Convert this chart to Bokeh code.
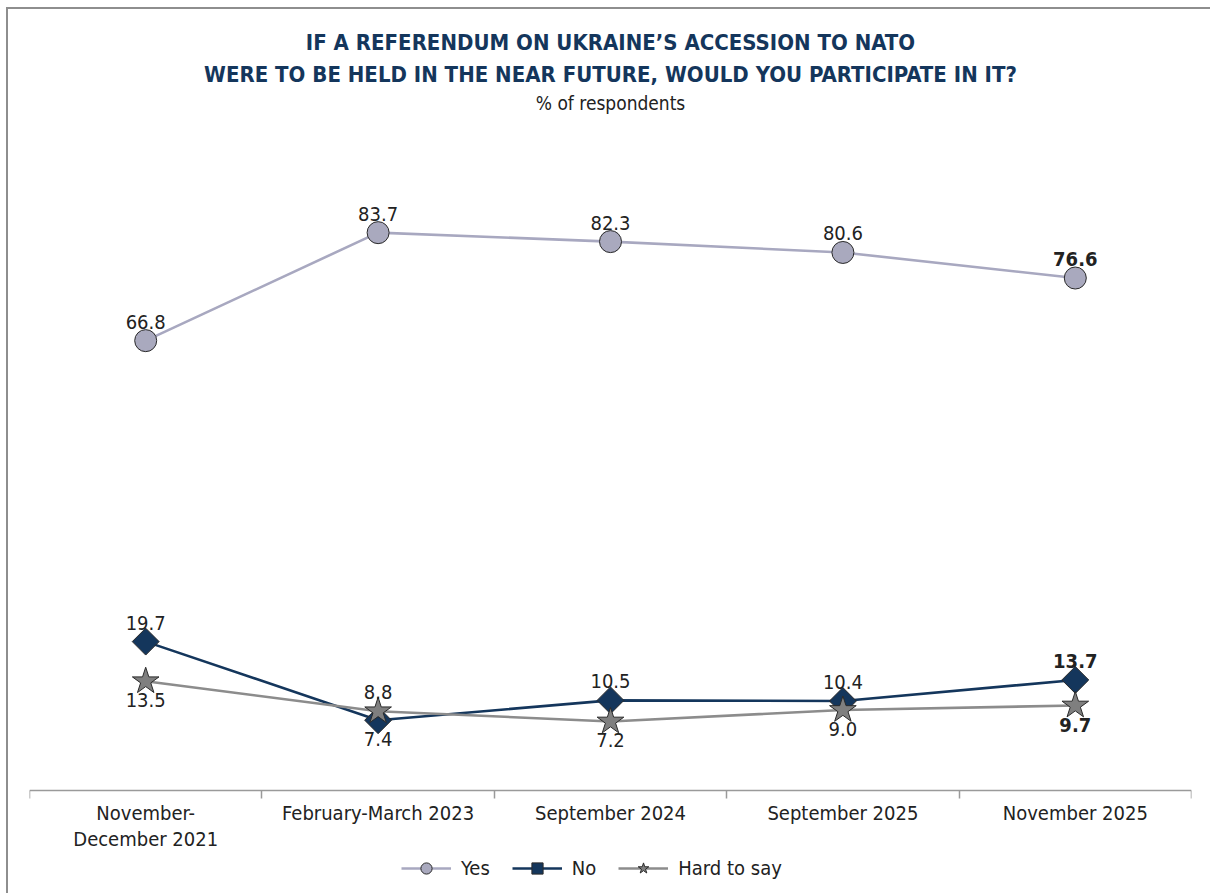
import math
from bokeh.plotting import figure
from bokeh.models import (ColumnDataSource, FixedTicker, Title, Legend, LegendItem, Range1d)
from bokeh.core.properties import value
from bokeh.embed import file_html
from bokeh.resources import INLINE

categories = ["November-\nDecember 2021", "February-March 2023", "September 2024",
              "September 2025", "November 2025"]
yes_vals = [66.8, 83.7, 82.3, 80.6, 76.6]
no_vals = [19.7, 7.4, 10.5, 10.4, 13.7]
hard_vals = [13.5, 8.8, 7.2, 9.0, 9.7]
no_label_pos = ["above", "below", "above", "above", "above"]
hard_label_pos = ["below", "above", "below", "below", "below"]
yes_label_pos = ["above"] * 5

FONT = "'Liberation Sans Narrow', 'DejaVu Sans Condensed', sans-serif"
NAVY = "#14365c"

xs = [i + 0.5 for i in range(len(categories))]

AXIS_Y = -3.6
Y_TOP = 100.0
FRAME_H = 765
PX_PER_UNIT = 662 / (Y_TOP - AXIS_Y)
Y_BOTTOM = Y_TOP - FRAME_H / PX_PER_UNIT

p = figure(frame_width=1162, frame_height=FRAME_H, output_backend="svg", toolbar_location=None,
           x_range=Range1d(0, 5), y_range=Range1d(Y_BOTTOM, Y_TOP),
           min_border_left=21, min_border_right=19, min_border_top=119, min_border_bottom=0,
           styles={"border-top": "2px solid #8e8e8e", "border-left": "2px solid #8e8e8e",
                   "margin-top": "7px", "margin-left": "6px"})
p.outline_line_color = None
p.grid.visible = False
p.yaxis.visible = False
p.title = None

p.add_layout(Title(text="% of respondents", text_font=FONT, text_font_size="19px",
                   text_font_style="normal", text_color="#222222", align="center",
                   standoff=30), "above")
p.add_layout(Title(text="WERE TO BE HELD IN THE NEAR FUTURE, WOULD YOU PARTICIPATE IN IT?",
                   text_font=FONT, text_font_size="22px", text_font_style="bold",
                   text_color=NAVY, align="center", standoff=-24), "above")
p.add_layout(Title(text="IF A REFERENDUM ON UKRAINE\u2019S ACCESSION TO NATO",
                   text_font=FONT, text_font_size="22px", text_font_style="bold",
                   text_color=NAVY, align="center", standoff=33), "above")

ax = p.xaxis[0]
ax.fixed_location = AXIS_Y
ax.ticker = FixedTicker(ticks=xs, minor_ticks=[0, 1, 2, 3, 4, 5])
ax.major_label_overrides = {x: c for x, c in zip(xs, categories)}
ax.major_tick_line_color = None
ax.major_tick_in = 0
ax.major_tick_out = 0
ax.minor_tick_in = 0
ax.minor_tick_out = 8
ax.minor_tick_line_color = "#9a9a9a"
ax.minor_tick_line_width = 1.5
ax.axis_line_color = "#9a9a9a"
ax.axis_line_width = 1.5
ax.major_label_text_font = FONT
ax.major_label_text_font_size = "20px"
ax.major_label_text_color = "#222222"
ax.major_label_text_line_height = 1.1
ax.major_label_standoff = 2

def add_series(vals, line_color, fill_color, marker, size, angle, pos):
    src = ColumnDataSource(dict(x=xs, y=vals))
    ln = p.line("x", "y", source=src, line_color=line_color, line_width=2.6)
    mk = p.scatter("x", "y", source=src, marker=marker, size=size, angle=angle,
                   fill_color=fill_color, line_color="#2a2a2a", line_width=1)
    lab = ColumnDataSource(dict(
        x=xs, y=vals,
        t=["%.1f" % v for v in vals],
        off=[-12 if q == "above" else 12 for q in pos],
        base=["bottom" if q == "above" else "top" for q in pos],
        st=["normal"] * (len(vals) - 1) + ["bold"],
    ))
    p.text("x", "y", text="t", source=lab, y_offset="off", text_baseline="base",
           text_align="center", text_font=value(FONT), text_font_size="20px",
           text_font_style="st", text_color="#222222")
    return [ln, mk]

r_yes = add_series(yes_vals, "#a8a8c0", "#a9a9be", "circle", 22, 0, yes_label_pos)
r_no = add_series(no_vals, NAVY, NAVY, "square", 19, math.pi / 4, no_label_pos)
r_hard = add_series(hard_vals, "#8c8c8c", "#7f7f7f", "star", 28, 0, hard_label_pos)

legend = Legend(items=[LegendItem(label="Yes", renderers=r_yes),
                       LegendItem(label="No", renderers=r_no),
                       LegendItem(label="Hard to say", renderers=r_hard)],
                orientation="horizontal", location=(372, 11),
                glyph_width=50, glyph_height=28, spacing=22, label_standoff=10,
                label_text_font=FONT, label_text_font_size="20px",
                label_text_color="#222222", border_line_color=None,
                background_fill_alpha=0, padding=2, margin=0)
p.add_layout(legend, "center")

open("out.html", "w").write(file_html(p, INLINE))
